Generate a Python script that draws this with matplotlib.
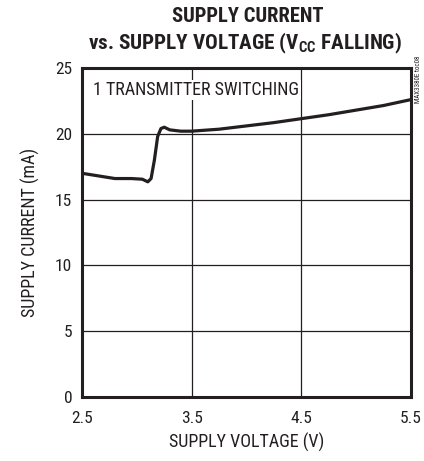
"""Supply current vs. supply voltage (Vcc falling)."""

import matplotlib

matplotlib.use("Agg")

import matplotlib.pyplot as plt

voltage = [2.5, 2.65, 2.8, 2.95, 3.05, 3.1, 3.13, 3.16, 3.19, 3.22, 3.25,
           3.3, 3.4, 3.5, 3.75, 4.0, 4.25, 4.5, 4.75, 5.0, 5.25, 5.5]
current = [17.0, 16.8, 16.6, 16.6, 16.55, 16.35, 16.6, 18.0, 19.8, 20.4, 20.5,
           20.3, 20.2, 20.2, 20.35, 20.6, 20.85, 21.15, 21.45, 21.8, 22.15, 22.6]

x_ticks = [2.5, 3.5, 4.5, 5.5]
y_ticks = [0, 5, 10, 15, 20, 25]

INK = "#231f20"
plt.rcParams["font.family"] = ["Roboto Condensed", "DejaVu Sans"]
plt.rcParams["mathtext.fontset"] = "custom"
plt.rcParams["mathtext.rm"] = "Roboto Condensed:bold"
plt.rcParams["mathtext.bf"] = "Roboto Condensed:bold"


def main():
    fig = plt.figure(figsize=(4.24, 4.61), dpi=100)
    ax = fig.add_axes([0.1934, 0.1388, 0.7759, 0.7137])

    ax.plot(voltage, current, color=INK, linewidth=2.3, solid_capstyle="round")

    ax.set_xlim(2.5, 5.5)
    ax.set_ylim(0, 25)
    ax.set_xticks(x_ticks)
    ax.set_xticklabels([f"{v:.1f}" for v in x_ticks])
    ax.set_yticks(y_ticks)
    ax.tick_params(length=0, labelsize=12.5, colors=INK)
    ax.tick_params(axis="y", pad=7)
    ax.tick_params(axis="x", pad=10)
    ax.grid(True, color=INK, linewidth=0.9)
    for spine in ax.spines.values():
        spine.set_linewidth(2.2)
        spine.set_color(INK)

    ax.set_xlabel("SUPPLY VOLTAGE (V)", fontsize=13, labelpad=5, color=INK)
    ax.set_ylabel("SUPPLY CURRENT (mA)", fontsize=13, labelpad=11, color=INK)

    ax.text(0.034, 0.933, "1 TRANSMITTER SWITCHING", transform=ax.transAxes,
            fontsize=13, ha="left", va="center", color=INK,
            bbox=dict(facecolor="white", edgecolor="none", pad=1))

    fig.text(0.585, 0.965, "SUPPLY CURRENT", ha="center", va="center",
             fontsize=14.8, fontweight="heavy", color=INK)
    fig.text(0.578, 0.905, r"vs. SUPPLY VOLTAGE (V$_{\mathbf{CC}}$ FALLING)",
             ha="center", va="center", fontsize=15.2, fontweight="heavy",
             color=INK)

    fig.text(0.986, 0.829, "MAX3380E toc08", rotation=90, ha="center",
             va="center", fontsize=5, color=INK)

    fig.savefig("out.png", dpi=100)
    plt.close(fig)


if __name__ == "__main__":
    main()
